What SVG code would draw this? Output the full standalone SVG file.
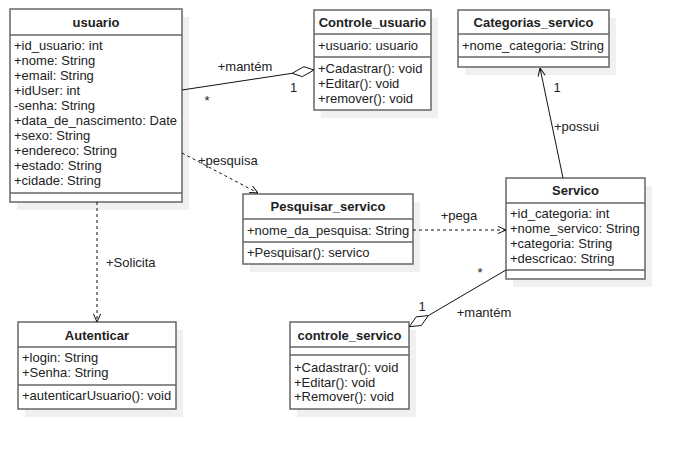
<svg xmlns="http://www.w3.org/2000/svg" width="684" height="449" viewBox="0 0 684 449">
<style>
  text { font-family: "Liberation Sans", Arial, sans-serif; font-size: 13px; fill: #222; }
  .t { font-weight: bold; text-anchor: middle; }
  .m { text-anchor: middle; }
  .box { fill: #ffffff; stroke: #666666; stroke-width: 1.5; }
  .sh { fill: #f0f0f0; }
  .div { stroke: #666666; stroke-width: 1.5; }
  .ln { fill: none; stroke: #111; stroke-width: 1; }
  .dash { fill: none; stroke: #111; stroke-width: 1; stroke-dasharray: 3 3; }
  .dia { fill: #ffffff; stroke: #111; stroke-width: 1; }
</style>
<defs>
  <marker id="open" viewBox="0 0 10 10" refX="10" refY="5" markerWidth="9" markerHeight="9" orient="auto" markerUnits="userSpaceOnUse">
    <path d="M1,1 L10,5 L1,9" fill="none" stroke="#111" stroke-width="1.1"/>
  </marker>
</defs>
<rect width="684" height="449" fill="#ffffff"/>

<g id="usuario">
  <rect class="sh" x="17" y="17" width="172" height="193"/>
  <rect class="box" x="10" y="9" width="172" height="193"/>
  <line class="div" x1="10" y1="35" x2="182" y2="35"/>
  <line class="div" x1="10" y1="193" x2="182" y2="193"/>
  <text class="t" x="96" y="27">usuario</text>
  <text x="14" y="49.5">+id_usuario: int</text>
  <text x="14" y="64.6">+nome: String</text>
  <text x="14" y="79.7">+email: String</text>
  <text x="14" y="94.8">+idUser: int</text>
  <text x="14" y="109.9">-senha: String</text>
  <text x="14" y="125">+data_de_nascimento: Date</text>
  <text x="14" y="140.1">+sexo: String</text>
  <text x="14" y="155.2">+endereco: String</text>
  <text x="14" y="170.3">+estado: String</text>
  <text x="14" y="185.4">+cidade: String</text>
</g>

<g id="controle_usuario">
  <rect class="sh" x="321" y="18" width="117" height="100"/>
  <rect class="box" x="314" y="10" width="117" height="100"/>
  <line class="div" x1="314" y1="34" x2="431" y2="34"/>
  <line class="div" x1="314" y1="57" x2="431" y2="57"/>
  <text class="t" x="372.5" y="26.5">Controle_usuario</text>
  <text x="318" y="49.5">+usuario: usuario</text>
  <text x="318" y="72.5">+Cadastrar(): void</text>
  <text x="318" y="87.5">+Editar(): void</text>
  <text x="318" y="102.5">+remover(): void</text>
</g>

<g id="categorias_servico">
  <rect class="sh" x="465" y="18" width="151" height="57"/>
  <rect class="box" x="458" y="10" width="151" height="57"/>
  <line class="div" x1="458" y1="34" x2="609" y2="34"/>
  <line class="div" x1="458" y1="57" x2="609" y2="57"/>
  <text class="t" x="533.5" y="26.5">Categorias_servico</text>
  <text x="462" y="49.5">+nome_categoria: String</text>
</g>

<g id="pesquisar_servico">
  <rect class="sh" x="250" y="202" width="170" height="70"/>
  <rect class="box" x="243" y="194" width="170" height="70"/>
  <line class="div" x1="243" y1="219" x2="413" y2="219"/>
  <line class="div" x1="243" y1="242" x2="413" y2="242"/>
  <text class="t" x="328" y="211">Pesquisar_servico</text>
  <text x="247" y="234.5">+nome_da_pesquisa: String</text>
  <text x="247" y="257">+Pesquisar(): servico</text>
</g>

<g id="servico">
  <rect class="sh" x="513" y="186" width="139" height="101"/>
  <rect class="box" x="506" y="178" width="139" height="101"/>
  <line class="div" x1="506" y1="203" x2="645" y2="203"/>
  <line class="div" x1="506" y1="270" x2="645" y2="270"/>
  <text class="t" x="575.5" y="195">Servico</text>
  <text x="510" y="218">+id_categoria: int</text>
  <text x="510" y="233">+nome_servico: String</text>
  <text x="510" y="248">+categoria: String</text>
  <text x="510" y="263">+descricao: String</text>
</g>

<g id="controle_servico">
  <rect class="sh" x="297" y="330" width="119" height="87"/>
  <rect class="box" x="290" y="322" width="119" height="87"/>
  <line class="div" x1="290" y1="347" x2="409" y2="347"/>
  <line class="div" x1="290" y1="355" x2="409" y2="355"/>
  <text class="t" x="349.5" y="339.5">controle_servico</text>
  <text x="294" y="372">+Cadastrar(): void</text>
  <text x="294" y="386.5">+Editar(): void</text>
  <text x="294" y="401">+Remover(): void</text>
</g>

<g id="autenticar">
  <rect class="sh" x="25" y="330" width="158" height="87"/>
  <rect class="box" x="18" y="322" width="158" height="87"/>
  <line class="div" x1="18" y1="347" x2="176" y2="347"/>
  <line class="div" x1="18" y1="385" x2="176" y2="385"/>
  <text class="t" x="97" y="339.5">Autenticar</text>
  <text x="22" y="362">+login: String</text>
  <text x="22" y="377">+Senha: String</text>
  <text x="22" y="399.5">+autenticarUsuario(): void</text>
</g>

<g id="connectors">
  <!-- usuario - Controle_usuario (aggregation) -->
  <line class="ln" x1="182" y1="90" x2="292.2" y2="73.3"/>
  <polygon class="dia" points="314,70 303.85,66.7 292.2,73.3 302.35,76.6"/>
  <text class="m" x="245" y="70.5">+mantém</text>
  <text class="m" x="207" y="105">*</text>
  <text class="m" x="293.5" y="92">1</text>

  <!-- usuario -> Pesquisar_servico (dependency) -->
  <line class="dash" x1="182" y1="153" x2="258" y2="193" marker-end="url(#open)"/>
  <text x="198" y="164.5">+pesquisa</text>

  <!-- Pesquisar_servico -> Servico (dependency) -->
  <line class="dash" x1="413" y1="230" x2="506" y2="230" marker-end="url(#open)"/>
  <text class="m" x="459" y="220">+pega</text>

  <!-- usuario -> Autenticar (dependency) -->
  <line class="dash" x1="97" y1="202" x2="97" y2="322" marker-end="url(#open)"/>
  <text x="106" y="266.5">+Solicita</text>

  <!-- Servico -> Categorias_servico (association) -->
  <line class="ln" x1="563" y1="178" x2="540" y2="68" marker-end="url(#open)"/>
  <text class="m" x="557" y="91.5">1</text>
  <text x="554" y="130.5">+possui</text>

  <!-- Servico - controle_servico (aggregation) -->
  <line class="ln" x1="506" y1="270" x2="428.3" y2="315.6"/>
  <polygon class="dia" points="409.3,326.7 421.3,325.5 428.3,315.6 416.3,316.8"/>
  <text class="m" x="422" y="311">1</text>
  <text class="m" x="480" y="277">*</text>
  <text class="m" x="484" y="317">+mantém</text>
</g>
</svg>
